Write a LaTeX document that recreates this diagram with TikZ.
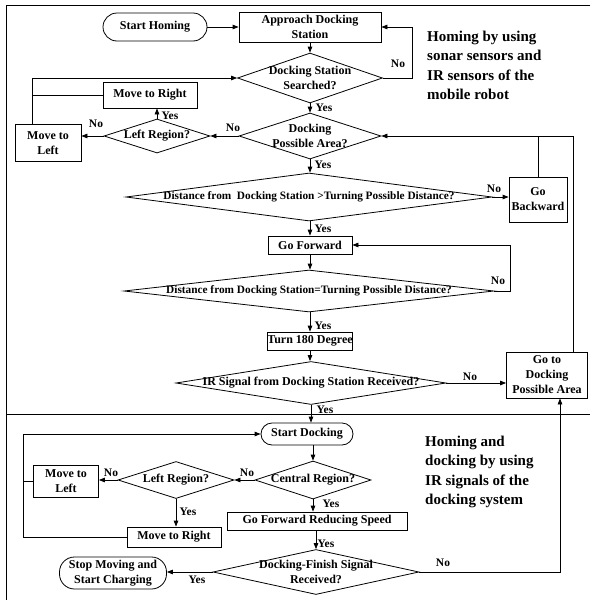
\documentclass[tikz,border=0pt]{standalone}
\usepackage{fontspec}
\setmainfont{Liberation Serif}
\usetikzlibrary{shapes.geometric,arrows.meta}
\begin{document}
\begin{tikzpicture}[x=1pt,y=-1pt,
  font=\fontsize{12}{15}\selectfont\bfseries,
  every node/.style={inner sep=0pt},
  box/.style={draw, line width=0.8pt, rectangle, align=center},
  term/.style={draw, line width=0.8pt, rectangle, rounded corners=#1, align=center},
  dec/.style={draw, line width=0.8pt, diamond, inner sep=0pt},
  lab/.style={font=\fontsize{11.5}{13}\selectfont\bfseries},
  longtxt/.style={font=\fontsize{11.3}{13}\selectfont\bfseries},
  ann/.style={align=left, anchor=north west, font=\fontsize{15}{19.3}\selectfont\bfseries},
  arr/.style={line width=0.8pt, -{Triangle[length=6pt,width=4.5pt]}},
  ln/.style={line width=0.8pt},
]
\useasboundingbox (0,0) rectangle (590,600);
\fill[white] (0,0) rectangle (590,600);

% frame
\draw[ln] (590,5) -- (6,5) -- (6,600);
\draw[ln] (6,414) -- (590,414);

% nodes - upper part
\node[term=14pt, minimum width=104pt, minimum height=28pt] (sh) at (155,27) {Start Homing};
\node[box, minimum width=142pt, minimum height=30pt] (ads) at (310,27) {Approach Docking\\Station};
\node[dec, minimum width=145pt, minimum height=50pt, label={[align=center]center:Docking Station\\Searched?}] (dss) at (310,78) {};
\node[dec, minimum width=142pt, minimum height=46pt, label={[align=center]center:Docking\\Possible Area?}] (dpa) at (310,136) {};
\node[dec, minimum width=106pt, minimum height=34pt, label=center:Left Region?] (lr1) at (157,136) {};
\node[box, minimum width=94pt, minimum height=26pt] (mr1) at (150,95) {Move to Right};
\node[box, minimum width=66pt, minimum height=37pt] (ml1) at (48,143) {Move to\\Left};
\node[dec, minimum width=366pt, minimum height=48pt, label={[longtxt]center:Distance from\ \ Docking Station >Turning Possible Distance?}] (dfd) at (309,197) {};
\node[box, minimum width=58pt, minimum height=45pt] (gb) at (538,199.5) {Go\\Backward};
\node[box, minimum width=84pt, minimum height=18pt] (gf) at (310,245) {Go Forward};
\node[dec, minimum width=370pt, minimum height=42pt, label={[longtxt]center:Distance from Docking Station=Turning Possible Distance?}] (ded) at (309,291) {};
\node[box, minimum width=85pt, minimum height=18pt] (t180) at (310,341) {Turn 180 Degree};
\node[dec, minimum width=270pt, minimum height=43pt, label=center:IR Signal from Docking Station Received?] (ir) at (311,383) {};
\node[box, minimum width=81pt, minimum height=46pt] (gtd) at (547,375) {Go to\\Docking\\Possible Area};

% nodes - lower part
\node[term=11pt, minimum width=92pt, minimum height=22pt] (sd) at (307,434) {Start Docking};
\node[dec, minimum width=116pt, minimum height=38pt, label=center:Central Region?] (cr) at (313,480) {};
\node[dec, minimum width=116pt, minimum height=37pt, label=center:Left Region?] (lr2) at (176,480) {};
\node[box, minimum width=65pt, minimum height=32pt] (ml2) at (66,481) {Move to\\Left};
\node[box, minimum width=94pt, minimum height=20pt] (mr2) at (174,537) {Move to Right};
\node[box, minimum width=180pt, minimum height=18pt] (gfrs) at (317,521) {Go Forward Reducing Speed};
\node[dec, minimum width=206pt, minimum height=45pt, label={[align=center]center:Docking-Finish Signal\\Received?}] (dfs) at (316,572) {};
\node[term=15pt, minimum width=107pt, minimum height=32pt] (smc) at (113,573) {Stop Moving and\\Start Charging};

% annotations
\node[ann] (an1) at (427,31) {Homing by using\\sonar sensors and\\IR sensors of the\\mobile robot};
\node[ann] (an2) at (425,436) {Homing and\\docking by using\\IR signals of the\\docking system};

% coordinates
\coordinate (ml1n) at ([xshift=-16pt]ml1.north);
\coordinate (c1) at (573,136);
\coordinate (c2) at (560,572);
\coordinate (lpb) at (23,537);

% connectors - upper
\draw[arr] (sh.east) -- (sh.east -| ads.west);
\draw[arr] (ads.south) -- (dss.north);
\draw[arr] (dss.east) -- ++(29,0) |- (ads.east);
\draw[arr] (dss.south) -- (dpa.north);
\draw[arr] (dpa.west) -- (lr1.east);
\draw[arr] (lr1.north) -- (lr1.north |- mr1.south);
\draw[arr] (lr1.west) -- (lr1.west -| ml1.east);
\draw[ln] (mr1.west) -- (mr1.west -| ml1n);
\draw[arr] (ml1n) |- (dss.west);
\draw[arr] (dpa.south) -- (dpa.south |- dfd.north);
\draw[arr] (dfd.east) -- (dfd.east -| gb.west);
\draw[ln] (gb.north) -- (gb.north |- dpa.east);
\draw[arr] ([xshift=26pt]gtd.north) -- (c1) -- (dpa.east);
\draw[arr] (dfd.south -| gf.north) -- (gf.north);
\draw[arr] (gf.south) -- (gf.south |- ded.north);
\draw[arr] (ded.east) -- ++(16,0) |- (gf.east);
\draw[arr] (ded.south -| t180.north) -- (t180.north);
\draw[arr] (t180.south) -- (t180.south |- ir.north);
\draw[arr] (ir.east) -- (ir.east -| gtd.west);

% connectors - lower
\draw[arr] (ir.south) -- (ir.south |- sd.north);
\draw[arr] (sd.south -| cr.north) -- (cr.north);
\draw[arr] (cr.west) -- (lr2.east);
\draw[arr] (lr2.west) -- (lr2.west -| ml2.east);
\draw[arr] (lr2.south) -- (lr2.south |- mr2.north);
\draw[ln] (ml2.west) -- (ml2.west -| lpb);
\draw[arr] (mr2.west) -- (lpb) |- (sd.west);
\draw[arr] (cr.south) -- (cr.south |- gfrs.north);
\draw[arr] (gfrs.south -| dfs.north) -- (dfs.north);
\draw[arr] (dfs.west) -- (dfs.west -| smc.east);
\draw[arr] (dfs.east) -- (c2) -- (c2 |- gtd.south);

% edge labels
\node[lab] at (398,64) {No};
\node[lab] at (324,108) {Yes};
\node[lab] at (233,128) {No};
\node[lab] at (170,116) {Yes};
\node[lab] at (96,124) {No};
\node[lab] at (323,165) {Yes};
\node[lab] at (494,189) {No};
\node[lab] at (323,229) {Yes};
\node[lab] at (498,281) {No};
\node[lab] at (323,326) {Yes};
\node[lab] at (470,377) {No};
\node[lab] at (325,410) {Yes};
\node[lab] at (247,473) {No};
\node[lab] at (111,473) {No};
\node[lab] at (188,512) {Yes};
\node[lab] at (331,504) {Yes};
\node[lab] at (326,544) {Yes};
\node[lab] at (197,580) {Yes};
\node[lab] at (443,563) {No};
\end{tikzpicture}
\end{document}
